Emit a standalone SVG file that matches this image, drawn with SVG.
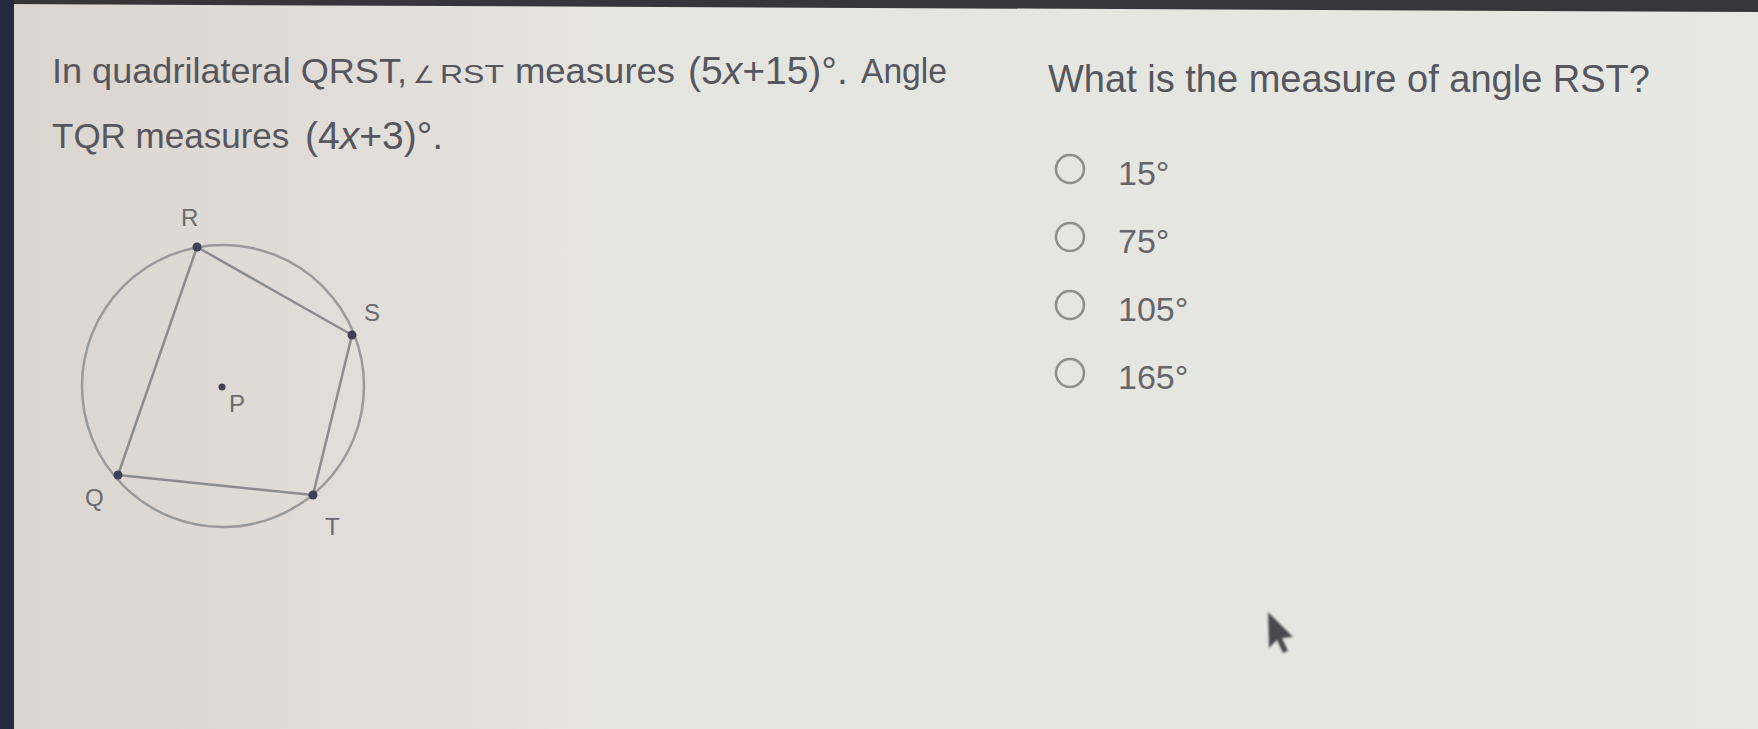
<svg xmlns="http://www.w3.org/2000/svg" width="1758" height="729" viewBox="0 0 1758 729">
<defs>
<linearGradient id="bg" x1="0" y1="0" x2="1" y2="0">
<stop offset="0" stop-color="#dcd5cf"/>
<stop offset="0.18" stop-color="#e1dcd7"/>
<stop offset="0.35" stop-color="#e5e5e0"/>
<stop offset="1" stop-color="#e7e8e3"/>
</linearGradient>
<filter id="soft" x="-20%" y="-20%" width="140%" height="140%"><feGaussianBlur stdDeviation="1.2"/></filter>
<style>
.t{font-family:"Liberation Sans",Arial,sans-serif;fill:#56565e}
.q{font-size:35px}
.m{font-size:39px}
.sm{font-size:25px}
.lbl{font-family:"Liberation Sans",Arial,sans-serif;font-size:24px;fill:#6a6a6e}
.opt{font-family:"Liberation Sans",Arial,sans-serif;font-size:34px;fill:#66666a}
.edge{stroke:#8c8c90;stroke-width:2.5;fill:none}
.circ{stroke:#9a9a9c;stroke-width:2.5;fill:none}
.pt{fill:#3f4058}
.radio{stroke:#8e8e8e;stroke-width:2.6;fill:none}
</style>
</defs>
<rect width="1758" height="729" fill="url(#bg)"/>
<polygon points="0,0 1758,0 1758,12 0,4" fill="#35353a"/>
<rect x="0" y="0" width="14" height="729" fill="#262a40"/>

<g id="question-left" class="t">
<text class="q" x="52" y="83" textLength="355" lengthAdjust="spacingAndGlyphs">In quadrilateral QRST,</text>
<text x="413" y="83" style="font-family:'DejaVu Sans',sans-serif;font-size:24px">∠</text>
<text class="sm" x="440" y="83" textLength="64" lengthAdjust="spacingAndGlyphs">RST</text>
<text class="q" x="515" y="83" textLength="160" lengthAdjust="spacingAndGlyphs">measures</text>
<text class="m" x="688" y="84">(5<tspan font-style="italic">x</tspan>+15)°.</text>
<text class="q" x="861" y="83" textLength="86" lengthAdjust="spacingAndGlyphs">Angle</text>
<text class="q" x="52" y="148">TQR measures</text>
<text class="m" x="305" y="149">(4<tspan font-style="italic">x</tspan>+3)°.</text>
</g>

<g id="figure">
<circle id="circle-P" class="circ" cx="223" cy="386" r="141"/>
<g id="connectors">
<line class="edge" x1="197" y1="247" x2="352" y2="335"/>
<line class="edge" x1="352" y1="335" x2="313" y2="495"/>
<line class="edge" x1="313" y1="495" x2="118" y2="475"/>
<line class="edge" x1="118" y1="475" x2="197" y2="247"/>
</g>
<g id="node-R"><circle class="pt" cx="197" cy="247" r="4.5"/><text class="lbl" x="181" y="226">R</text></g>
<g id="node-S"><circle class="pt" cx="352" cy="335" r="4.5"/><text class="lbl" x="364" y="321">S</text></g>
<g id="node-T"><circle class="pt" cx="313" cy="495" r="4.5"/><text class="lbl" x="325" y="535">T</text></g>
<g id="node-Q"><circle class="pt" cx="118" cy="475" r="4.5"/><text class="lbl" x="85" y="506">Q</text></g>
<g id="node-P"><circle class="pt" cx="222" cy="387" r="3.5"/><text class="lbl" x="229" y="412">P</text></g>
</g>

<g id="question-right" class="t">
<text x="1048" y="92" style="font-size:38px">What is the measure of angle RST?</text>
</g>

<g id="options">
<g id="opt-15"><circle class="radio" cx="1070" cy="169" r="14"/><text class="opt" x="1118" y="185">15°</text></g>
<g id="opt-75"><circle class="radio" cx="1070" cy="237" r="14"/><text class="opt" x="1118" y="253">75°</text></g>
<g id="opt-105"><circle class="radio" cx="1070" cy="305" r="14"/><text class="opt" x="1118" y="321">105°</text></g>
<g id="opt-165"><circle class="radio" cx="1070" cy="373" r="14"/><text class="opt" x="1118" y="389">165°</text></g>
</g>

<g id="cursor" transform="translate(1268,612)" filter="url(#soft)">
<polygon points="0,0 1,36 9,28 15,41 20,39 14,26 25,25" fill="#4a4a50"/>
</g>
</svg>
